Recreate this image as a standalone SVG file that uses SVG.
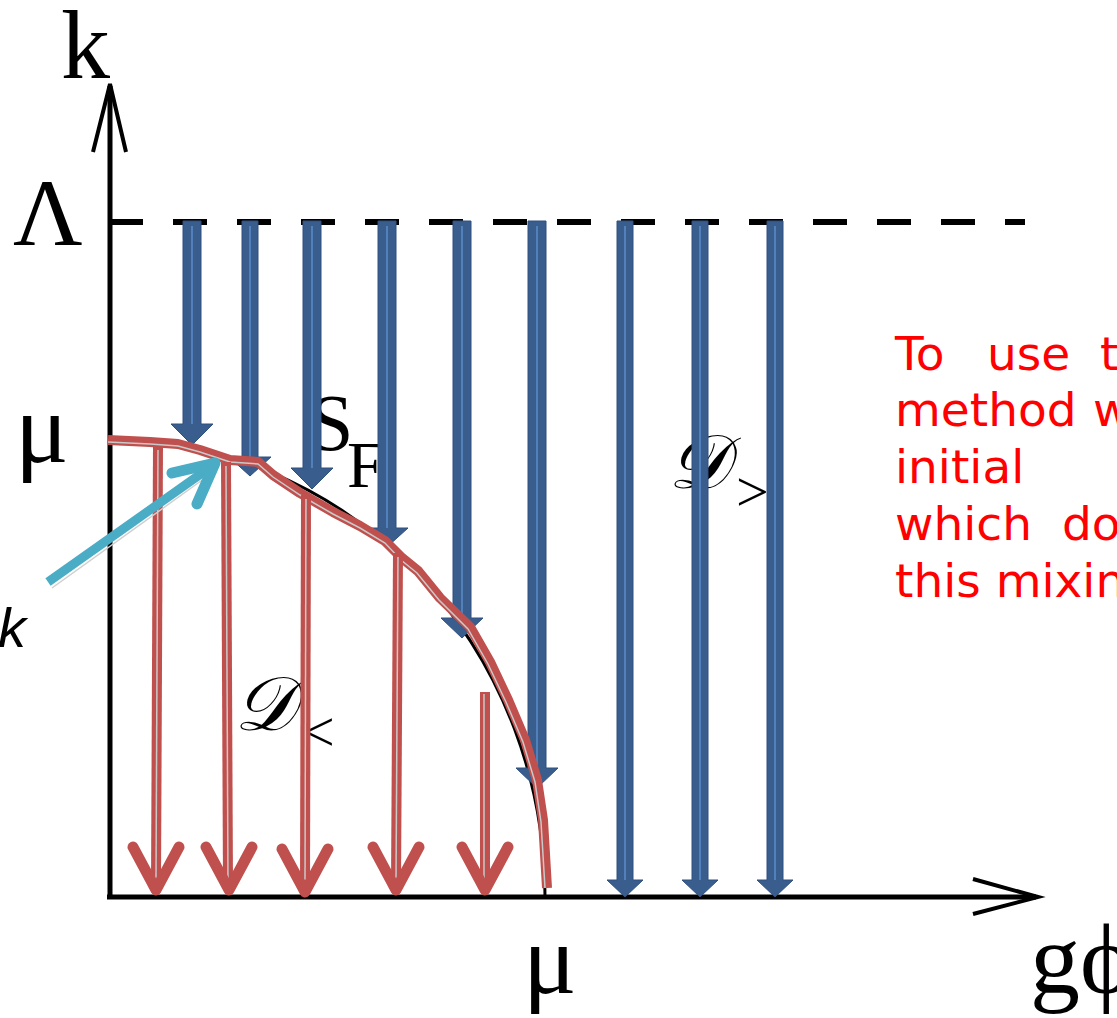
<svg xmlns="http://www.w3.org/2000/svg" width="1117" height="1018" viewBox="0 0 1117 1018">
<style>
.ax{stroke:#000;stroke-width:5;fill:none}
.axh{stroke:#000;stroke-width:4;fill:none;stroke-linejoin:miter}
.serif{font-family:"Liberation Serif","Times New Roman",serif;fill:#000}
.scr{font-family:"DejaVu Serif","Liberation Serif",serif;font-style:italic;fill:#000}
.red{font-family:"DejaVu Sans","Verdana",sans-serif;font-size:47px;fill:#FF0000}
.bshaft{fill:#395D8C;stroke:#2F5080;stroke-width:1}
.bline{stroke:#5B8CCB;stroke-width:1.5}
.rcurve{fill:none;stroke:#C0504D;stroke-width:10;stroke-linejoin:round;stroke-linecap:butt}
.rgray{fill:none;stroke:#C9C9C9;stroke-width:1.5}
.rshaft{stroke:#C0504D;stroke-width:10}
.rhead{fill:none;stroke:#C0504D;stroke-width:11;stroke-linecap:round;stroke-linejoin:round}
</style>
<rect width="1117" height="1018" fill="#fff"/>

<g id="axes">
  <line class="ax" x1="110" y1="899" x2="110" y2="86"/>
  <polyline class="axh" points="93,152 110,84 126,152"/>
  <line class="ax" x1="107" y1="897" x2="1036" y2="897"/>
  <polyline class="axh" points="973,879 1038,897 973,914"/>
  <line x1="109" y1="222" x2="1025" y2="222" stroke="#000" stroke-width="6" stroke-dasharray="34 30"/>
  <path d="M110,440 A435,457 0 0 1 545,897" fill="none" stroke="#000" stroke-width="3"/>
</g>

<g id="labels">
  <text class="serif" x="61" y="78" font-size="98">k</text>
  <text class="serif" x="13" y="245" font-size="96">Λ</text>
  <text class="serif" x="15" y="462" font-size="100">μ</text>
  <text class="serif" x="523" y="993" font-size="100">μ</text>
  <text class="serif" x="1030" y="993" font-size="100">gϕ</text>
  <text x="-2" y="647" font-family="Liberation Sans, Arial, sans-serif" font-style="italic" font-size="56" fill="#000">k</text>
  <g id="SF"><text class="serif" x="309" y="450" font-size="80">S</text><text class="serif" x="347" y="487" font-size="66">F</text></g>
  <g id="Dgt"><text class="scr" x="668" y="488" font-size="76">𝒟</text><text class="serif" x="736" y="511" font-size="58">&gt;</text></g>
  <g id="Dlt"><text class="scr" x="234" y="730" font-size="76">𝒟</text><text class="serif" x="302" y="751" font-size="58">&lt;</text></g>
</g>

<g id="note">
  <text class="red" x="895" y="370">To</text>
  <text class="red" x="987" y="370">use</text>
  <text class="red" x="1100" y="370">t</text>
  <text class="red" x="895" y="426">method</text>
  <text class="red" x="1093" y="426">w</text>
  <text class="red" x="895" y="483">initial</text>
  <text class="red" x="895" y="540">which</text>
  <text class="red" x="1062" y="540">do</text>
  <text class="red" x="895" y="597">this mixin</text>
</g>

<g id="blue-arrows">
  <path class="bshaft" d="M183,221 H201 V424 H213 L192,445 L171,424 H183 Z"/><line class="bline" x1="192" y1="226" x2="192" y2="424"/>
  <path class="bshaft" d="M242,221 H258 V457 H271 L250,476 L229,457 H242 Z"/><line class="bline" x1="250" y1="226" x2="250" y2="457"/>
  <path class="bshaft" d="M303,221 H321 V468 H333 L312,489 L291,468 H303 Z"/><line class="bline" x1="312" y1="226" x2="312" y2="468"/>
  <path class="bshaft" d="M378,221 H396 V528 H408 L387,547 L366,528 H378 Z"/><line class="bline" x1="387" y1="226" x2="387" y2="528"/>
  <path class="bshaft" d="M453,221 H471 V618 H483 L462,638 L441,618 H453 Z"/><line class="bline" x1="462" y1="226" x2="462" y2="618"/>
  <path class="bshaft" d="M528,221 H546 V768 H558 L537,788 L516,768 H528 Z"/><line class="bline" x1="537" y1="226" x2="537" y2="768"/>
  <path class="bshaft" d="M617,221 H633 V880 H643 L625,897 L607,880 H617 Z"/><line class="bline" x1="625" y1="226" x2="625" y2="880"/>
  <path class="bshaft" d="M692,221 H708 V880 H718 L700,897 L682,880 H692 Z"/><line class="bline" x1="700" y1="226" x2="700" y2="880"/>
  <path class="bshaft" d="M767,221 H783 V880 H793 L775,897 L757,880 H767 Z"/><line class="bline" x1="775" y1="226" x2="775" y2="880"/>
</g>

<g id="red-curve">
  <path class="rcurve" d="M108,440 L150,442 L178,444 L200,450 L230,460 L258,462 L273,475 L300,493 L333,512 L360,526 L385,541 L402,558 L418,571 L440,598 L470,627 L490,662 L508,700 L525,740 L537,780 L543,820 L547,888"/>
  <path class="rgray" d="M108,442 L150,444 L178,446 L200,452 L230,462 L258,464 L273,477 L300,495 L333,514 L360,528 L385,543 L401,560 L417,573 L439,600 L468,629 L488,664 L506,702 L523,742 L535,782 L541,822 L545,888"/>
</g>

<g id="red-arrows">
  <line class="rshaft" x1="158" y1="446" x2="156" y2="886"/><line class="rgray" x1="158" y1="450" x2="156" y2="880"/>
  <polyline class="rhead" points="133,847 156,890 179,847"/>
  <line class="rshaft" x1="226" y1="462" x2="228" y2="886"/><line class="rgray" x1="226" y1="466" x2="228" y2="880"/>
  <polyline class="rhead" points="206,847 229,890 252,847"/>
  <line class="rshaft" x1="306" y1="495" x2="305" y2="886"/><line class="rgray" x1="306" y1="499" x2="305" y2="880"/>
  <polyline class="rhead" points="282,849 305,892 328,849"/>
  <line class="rshaft" x1="398" y1="553" x2="396" y2="886"/><line class="rgray" x1="398" y1="557" x2="396" y2="880"/>
  <polyline class="rhead" points="373,847 396,890 419,847"/>
  <line class="rshaft" x1="485" y1="692" x2="485" y2="886"/><line class="rgray" x1="484" y1="694" x2="484" y2="880"/>
  <polyline class="rhead" points="462,847 485,890 508,847"/>
</g>

<g id="cyan-arrow">
  <line x1="48" y1="582" x2="212" y2="466" stroke="#4BACC6" stroke-width="9"/>
  <line x1="52" y1="588" x2="205" y2="478" stroke="#CFCFCF" stroke-width="1.5"/>
  <polyline points="172,473 215,463 197,504" fill="none" stroke="#4BACC6" stroke-width="11" stroke-linecap="round" stroke-linejoin="round"/>
</g>
</svg>
